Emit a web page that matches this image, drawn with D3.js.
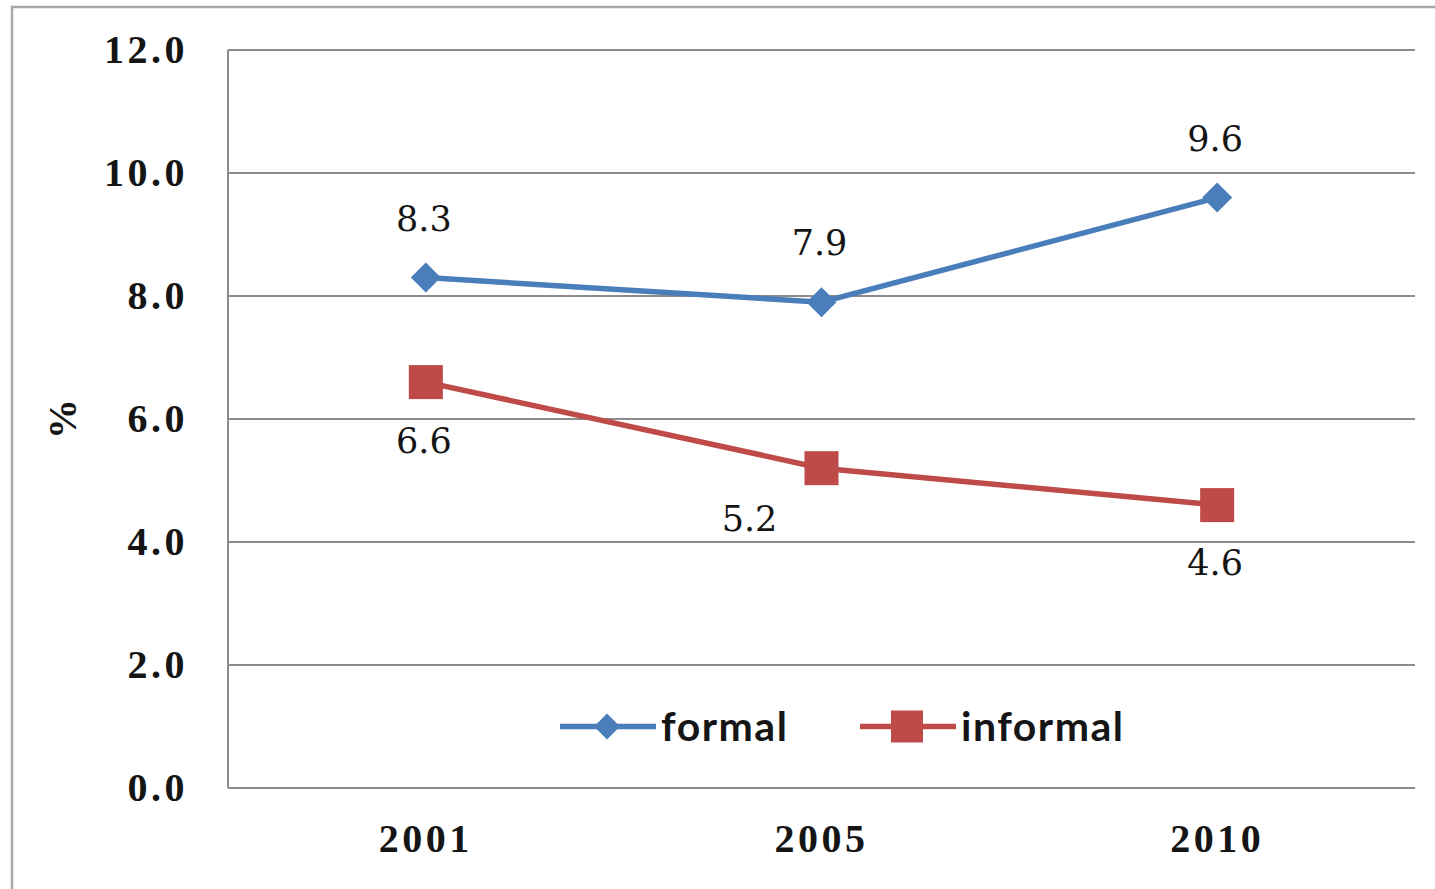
<!DOCTYPE html>
<html>
<head>
<meta charset="utf-8">
<script src="https://cdn.jsdelivr.net/npm/d3@7"></script>
<style>
  html, body { margin: 0; padding: 0; background: #fff; }
  svg { display: block; }
</style>
</head>
<body>
<svg id="chart" width="1435" height="889"></svg>
<script>
// Data
const years = ["2001", "2005", "2010"];
const formal = [8.3, 7.9, 9.6];
const informal = [6.6, 5.2, 4.6];
const yTicks = [0, 2, 4, 6, 8, 10, 12];
const seriesNames = ["formal", "informal"];

const W = 1435, H = 889;
const margin = { left: 228, right: 20, top: 50, bottom: 101 };
const plotRight = W - margin.right;

const svg = d3.select("#chart");

// outer chart frame (runs off the right and bottom edges)
svg.append("rect")
  .attr("x", 12).attr("y", 7)
  .attr("width", W).attr("height", H)
  .attr("fill", "none").attr("stroke", "#a8a8a8").attr("stroke-width", 2.5);

const x = d3.scaleBand().domain(years).range([margin.left, plotRight]);
const y = d3.scaleLinear().domain([0, 12]).range([H - margin.bottom, margin.top]);

// horizontal gridlines
svg.append("g")
  .selectAll("line")
  .data(yTicks)
  .join("line")
  .attr("x1", margin.left).attr("x2", plotRight)
  .attr("y1", d => y(d)).attr("y2", d => y(d))
  .attr("stroke", "#8c8c8c").attr("stroke-width", 2);

// left axis line
svg.append("line")
  .attr("x1", margin.left).attr("x2", margin.left)
  .attr("y1", y(12)).attr("y2", y(0))
  .attr("stroke", "#8c8c8c").attr("stroke-width", 2);

const tickStyle = sel => sel
  .attr("font-family", "'Liberation Serif', serif")
  .attr("font-weight", "bold")
  .attr("font-size", 40)
  .attr("letter-spacing", 3.5)
  .attr("fill", "#151515");

// y tick labels
const yAxis = d3.axisLeft(y).tickValues(yTicks).tickFormat(d3.format(".1f")).tickSize(0).tickPadding(40);
const gy = svg.append("g").attr("transform", `translate(${margin.left},0)`).call(yAxis);
gy.select(".domain").remove();
gy.selectAll("text").call(tickStyle);

// x tick labels
const xAxis = d3.axisBottom(x).tickSize(0).tickPadding(36);
const gx = svg.append("g").attr("transform", `translate(0,${y(0)})`).call(xAxis);
gx.select(".domain").remove();
gx.selectAll("text").call(tickStyle);

// y axis title
svg.append("text")
  .attr("transform", `translate(76,${y(6)}) rotate(-90)`)
  .attr("text-anchor", "middle")
  .attr("font-family", "'Liberation Serif', serif")
  .attr("font-weight", "bold")
  .attr("font-size", 40)
  .attr("fill", "#151515")
  .text("%");

const cx = d => x(d) + x.bandwidth() / 2;
const line = d3.line().x((d, i) => cx(years[i])).y(d => y(d));

const blue = "#4a7ebb", red = "#be4b48";

// series lines
svg.append("path").datum(formal).attr("d", line)
  .attr("fill", "none").attr("stroke", blue).attr("stroke-width", 5.5).attr("stroke-linejoin", "round");
svg.append("path").datum(informal).attr("d", line)
  .attr("fill", "none").attr("stroke", red).attr("stroke-width", 5.5).attr("stroke-linejoin", "round");

// markers
const diamond = s => `M0,${-s}L${s},0L0,${s}L${-s},0Z`;
svg.append("g").selectAll("path")
  .data(formal).join("path")
  .attr("transform", (d, i) => `translate(${cx(years[i])},${y(d)})`)
  .attr("d", diamond(15))
  .attr("fill", blue);
svg.append("g").selectAll("rect")
  .data(informal).join("rect")
  .attr("x", (d, i) => cx(years[i]) - 17)
  .attr("y", d => y(d) - 17)
  .attr("width", 34).attr("height", 34)
  .attr("fill", red);

// data labels
const fmt = d3.format(".1f");
const labelStyle = sel => sel
  .attr("font-family", "'DejaVu Serif', serif")
  .attr("font-size", 35)
  .attr("fill", "#151515")
  .attr("text-anchor", "middle");

svg.append("g").selectAll("text")
  .data(formal).join("text")
  .attr("x", (d, i) => cx(years[i]) - 2)
  .attr("y", d => y(d) - 47)
  .text(d => fmt(d))
  .call(labelStyle);

// informal labels sit below their markers; the middle one is nudged left
const informalShift = [[0, 0], [-70, -8], [0, -1]];
svg.append("g").selectAll("text")
  .data(informal).join("text")
  .attr("x", (d, i) => cx(years[i]) - 2 + informalShift[i][0])
  .attr("y", (d, i) => y(d) + 71 + informalShift[i][1])
  .text(d => fmt(d))
  .call(labelStyle);

// legend
const legend = svg.append("g").attr("transform", `translate(0,${y(1)})`);
const legendItems = [
  { name: seriesNames[0], color: blue, x0: 560, shape: "diamond" },
  { name: seriesNames[1], color: red, x0: 860, shape: "square" }
];
legendItems.forEach(it => {
  legend.append("line")
    .attr("x1", it.x0).attr("x2", it.x0 + 96)
    .attr("y1", 0).attr("y2", 0)
    .attr("stroke", it.color).attr("stroke-width", 5.5);
  if (it.shape === "diamond") {
    legend.append("path").attr("transform", `translate(${it.x0 + 47},0)`)
      .attr("d", diamond(13)).attr("fill", it.color);
  } else {
    legend.append("rect").attr("x", it.x0 + 47 - 16).attr("y", -16)
      .attr("width", 32).attr("height", 32).attr("fill", it.color);
  }
  legend.append("text")
    .attr("x", it.x0 + 101).attr("y", 0)
    .attr("dy", "0.36em")
    .attr("font-family", "Lato, sans-serif")
    .attr("font-weight", "bold")
    .attr("font-size", 41)
    .attr("letter-spacing", 1.5)
    .attr("fill", "#151515")
    .text(it.name);
});
</script>
</body>
</html>
